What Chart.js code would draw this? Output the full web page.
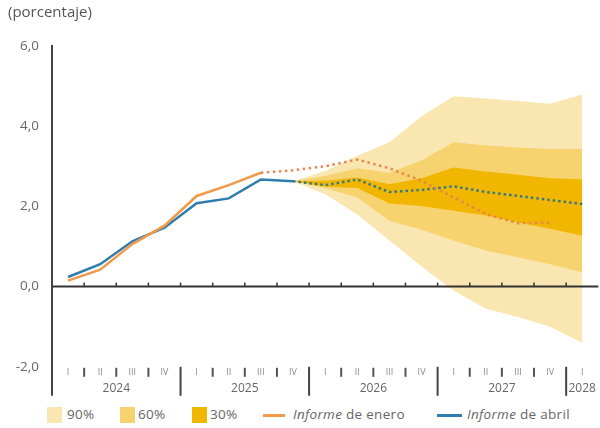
<!DOCTYPE html>
<html>
<head>
<meta charset="utf-8">
<script src="https://cdn.jsdelivr.net/npm/chart.js@4.4.1/dist/chart.umd.min.js"></script>
<style>
  body { margin: 0; background: #fff; font-family: "Open Sans", sans-serif; }
  #wrap { position: relative; width: 600px; height: 428px; }
  #legend { position: absolute; left: 0; top: 404px; width: 600px; height: 22px; font-size: 13.5px; letter-spacing: 0.3px; color: #666; }
  #legend span { position: absolute; top: 1px; white-space: nowrap; }
  #legend .box { width: 15px; height: 16px; top: 3px; }
  #legend .ln { height: 3px; top: 10px; }
</style>
</head>
<body>
<div id="wrap">
  <canvas id="myChart" width="600" height="400"></canvas>
  <div id="legend">
    <span class="box" style="left:47px;background:#FAE6B0"></span><span style="left:67px">90%</span>
    <span class="box" style="left:120px;background:#F6D36E"></span><span style="left:138px">60%</span>
    <span class="box" style="left:192px;background:#F1B700"></span><span style="left:210px">30%</span>
    <span class="ln" style="left:263px;width:22px;background:#F29A4A"></span><span style="left:293px"><i>Informe</i> de enero</span>
    <span class="ln" style="left:437px;width:25px;background:#2F7DAF"></span><span style="left:467px"><i>Informe</i> de abril</span>
  </div>
</div>
<script>
// -------- Data --------
const quarterLabels = ['I','II','III','IV','I','II','III','IV','I','II','III','IV','I','II','III','IV','I'];
const yearLabels = ['2024', '2025', '2026', '2027', '2028'];
const yearPos = [1.5, 5.5, 9.5, 13.5, 16];

// Informe de enero (dotted from 2025 Q3)
const enero = [0.15, 0.42, 1.06, 1.52, 2.26, 2.53, 2.84, 2.90, 3.00, 3.17, 2.95, 2.64, 2.22, 1.81, 1.58, 1.60, null];
// Informe de abril (dotted from 2025 Q4)
const abril = [0.24, 0.56, 1.13, 1.47, 2.08, 2.20, 2.67, 2.63, 2.53, 2.67, 2.36, 2.41, 2.50, 2.36, 2.26, 2.16, 2.06];

const pad = [null, null, null, null, null, null, null];
const up90 = pad.concat([2.63, 2.88, 3.26, 3.60, 4.25, 4.75, 4.69, 4.63, 4.56, 4.79]);
const lo90 = pad.concat([2.63, 2.30, 1.80, 1.15, 0.50, -0.10, -0.55, -0.76, -1.00, -1.40]);
const up60 = pad.concat([2.63, 2.76, 2.95, 2.84, 3.15, 3.60, 3.52, 3.47, 3.43, 3.43]);
const lo60 = pad.concat([2.63, 2.46, 2.22, 1.64, 1.42, 1.15, 0.90, 0.73, 0.56, 0.36]);
const up30 = pad.concat([2.63, 2.64, 2.72, 2.55, 2.70, 2.97, 2.87, 2.79, 2.70, 2.68]);
const lo30 = pad.concat([2.63, 2.49, 2.46, 2.07, 2.01, 1.89, 1.77, 1.60, 1.44, 1.27]);

// -------- Colours --------
const c90 = '#FAE6B0', c60 = '#F6D36E', c30 = '#F1B700';
const cOrange = '#F29A4A', cOrangeDot = '#E8864F';
const cBlue = '#2F7DAF', cBlueDot = '#357A80';

// zero line, quarter/year separators, extended y axis
const decor = {
  id: 'decor',
  afterDatasetsDraw(chart) {
    const { ctx, chartArea, scales } = chart;
    const x = scales.x, y = scales.y;
    const half = (x.getPixelForValue(1) - x.getPixelForValue(0)) / 2;
    const y0 = y.getPixelForValue(0);
    const b = chartArea.bottom;
    ctx.save();
    ctx.strokeStyle = '#333';
    ctx.lineWidth = 2;
    ctx.beginPath();
    ctx.moveTo(chartArea.left, y0);
    ctx.lineTo(chartArea.right, y0);
    ctx.stroke();
    // extend the y axis below the plot
    ctx.strokeStyle = '#444';
    ctx.beginPath();
    ctx.moveTo(chartArea.left, b - 1);
    ctx.lineTo(chartArea.left, b + 29);
    ctx.stroke();
    for (let i = 0; i < quarterLabels.length - 1; i++) {
      const px = x.getPixelForValue(i) + half;
      // small tick on zero line
      ctx.strokeStyle = '#333';
      ctx.lineWidth = 1.5;
      ctx.beginPath();
      ctx.moveTo(px, y0 - 4);
      ctx.lineTo(px, y0);
      ctx.stroke();
      ctx.lineWidth = 2;
      if (i % 4 === 3) {
        ctx.strokeStyle = '#444';
        ctx.beginPath();
        ctx.moveTo(px, b);
        ctx.lineTo(px, b + 29);
        ctx.stroke();
      } else {
        ctx.strokeStyle = '#555';
        ctx.beginPath();
        ctx.moveTo(px, b + 1);
        ctx.lineTo(px, b + 10);
        ctx.stroke();
      }
    }
    ctx.restore();
  }
};

const band = (data, color, fillTarget, order) => ({
  data,
  borderWidth: 0,
  borderColor: 'transparent',
  backgroundColor: color,
  pointRadius: 0,
  fill: fillTarget === null ? false : { target: fillTarget },
  tension: 0,
  order
});

new Chart(document.getElementById('myChart'), {
  type: 'line',
  data: {
    labels: quarterLabels,
    datasets: [
      {
        label: 'Informe de enero',
        data: enero,
        borderColor: cOrange,
        borderWidth: 2.5,
        pointRadius: 0,
        fill: false,
        order: 0,
        segment: {
          borderDash: c => c.p0DataIndex >= 6 ? [2.5, 3.5] : undefined,
          borderColor: c => c.p0DataIndex >= 6 ? cOrangeDot : cOrange
        }
      },
      {
        label: 'Informe de abril',
        data: abril,
        borderColor: cBlue,
        borderWidth: 2.5,
        pointRadius: 0,
        fill: false,
        order: 0,
        segment: {
          borderDash: c => c.p0DataIndex >= 7 ? [2.5, 3] : undefined,
          borderColor: c => c.p0DataIndex >= 7 ? cBlueDot : cBlue
        }
      },
      band(lo90, c90, null, 3),
      band(up90, c90, 2, 3),
      band(lo60, c60, null, 2),
      band(up60, c60, 4, 2),
      band(lo30, c30, null, 1),
      band(up30, c30, 6, 1)
    ]
  },
  options: {
    responsive: false,
    animation: false,
    layout: { padding: { left: 8, right: 0, top: 0, bottom: 0 } },
    plugins: {
      legend: { display: false },
      tooltip: { enabled: false },
      title: {
        display: true,
        text: '(porcentaje)',
        align: 'start',
        color: '#555',
        font: { family: 'Open Sans', size: 15, weight: 'normal' },
        padding: { top: 4, bottom: 24 }
      }
    },
    scales: {
      x: {
        offset: true,
        grid: { display: false, drawTicks: false },
        border: { display: false },
        ticks: {
          autoSkip: false,
          maxRotation: 0,
          padding: 0,
          color: '#8a8a8a',
          font: { family: 'Open Sans', size: 9 }
        }
      },
      xYear: {
        type: 'linear',
        position: 'bottom',
        min: -0.5,
        max: 16.5,
        weight: 1,
        grid: { display: false, drawTicks: false },
        border: { display: false },
        afterBuildTicks: axis => { axis.ticks = yearPos.map(v => ({ value: v })); },
        ticks: {
          autoSkip: false,
          maxRotation: 0,
          padding: 4,
          color: '#666',
          font: { family: 'Open Sans', size: 12 },
          callback: (v, i) => yearLabels[i]
        }
      },
      y: {
        min: -2,
        max: 6,
        grid: { display: false, drawTicks: false },
        border: { display: true, color: '#444', width: 2 },
        afterFit: s => { s.width = 44; },
        ticks: {
          stepSize: 2,
          padding: 13,
          color: '#666',
          font: { family: 'Open Sans', size: 13.5 },
          callback: v => v.toFixed(1).replace('.', ',')
        }
      }
    }
  },
  plugins: [decor]
});
</script>
</body>
</html>
